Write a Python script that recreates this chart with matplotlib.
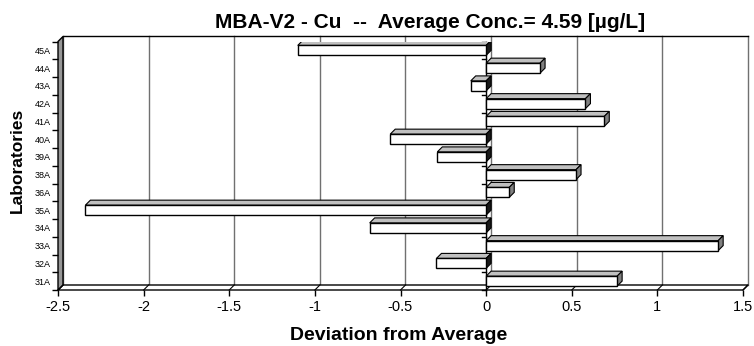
import matplotlib.pyplot as plt
from matplotlib.patches import Polygon

plt.rcParams['font.family'] = ['Liberation Sans', 'DejaVu Sans']

# laboratories, bottom to top
labs = ["31A", "32A", "33A", "34A", "35A", "36A", "38A",
        "39A", "40A", "41A", "42A", "43A", "44A", "45A"]
deviation = [0.765, -0.29, 1.355, -0.68, -2.34, 0.135, 0.525,
             -0.285, -0.56, 0.69, 0.58, -0.09, 0.315, -1.10]
xticks = [-2.5, -2, -1.5, -1, -0.5, 0, 0.5, 1, 1.5]
xticklabels = ["-2.5", "-2", "-1.5", "-1", "-0.5", "0", "0.5", "1", "1.5"]

fig = plt.figure(figsize=(7.54, 3.46), dpi=100)
ax = fig.add_axes([58 / 754, 56 / 346, 685 / 754, 248.5 / 346])
xmin, xmax = -2.5, 1.5
ybot, ytop = -0.5, len(labs) - 0.5
ax.set_xlim(xmin, xmax)
ax.set_ylim(ybot, ytop)
for s in ax.spines.values():
    s.set_visible(False)
ax.patch.set_visible(False)

# 3d depth, in pixels, converted to data units
depth = 5
px0, py0 = ax.transData.transform((0, 0))
ddx, ddy = ax.transData.inverted().transform((px0 + depth, py0 + depth))

# back wall gridlines and floor
for xt in xticks:
    ax.plot([xt + ddx, xt + ddx], [ybot + ddy, ytop + ddy], color="#707070",
            lw=1, zorder=1, clip_on=False)
ax.plot([xmin + ddx, xmax + ddx], [ytop + ddy, ytop + ddy], color="k",
        lw=1, zorder=1, clip_on=False)
floor = Polygon([(xmin, ybot), (xmax, ybot), (xmax + ddx, ybot + ddy),
                 (xmin + ddx, ybot + ddy)], closed=True, fc="white", ec="k",
                lw=1, zorder=1.5, clip_on=False)
ax.add_patch(floor)
for xt in xticks:
    ax.plot([xt, xt + ddx], [ybot, ybot + ddy], color="k", lw=0.8,
            zorder=1.6, clip_on=False)
wall = Polygon([(xmin, ybot), (xmin, ytop), (xmin + ddx, ytop + ddy),
                (xmin + ddx, ybot + ddy)], closed=True, fc="#969696", ec="k",
               lw=1, zorder=1.5, clip_on=False)
ax.add_patch(wall)

# category axis at zero
ax.plot([0, 0], [ybot, ytop], color="k", lw=1, zorder=2, clip_on=False)
for yb in range(len(labs) + 1):
    ax.plot([-0.8 * ddx, 0], [yb - 0.5, yb - 0.5], color="k", lw=1,
            zorder=2, clip_on=False)

# bars
h = 0.56
for i, v in enumerate(deviation):
    yb, yt = i - h / 2, i + h / 2
    xl, xr = min(0, v), max(0, v)
    top = Polygon([(xl, yt), (xr, yt), (xr + ddx, yt + ddy), (xl + ddx, yt + ddy)],
                  closed=True, fc="#c0c0c0", ec="k", lw=0.8, zorder=3)
    side = Polygon([(xr, yb), (xr + ddx, yb + ddy), (xr + ddx, yt + ddy), (xr, yt)],
                   closed=True, fc="#808080" if v > 0 else "#1a1a1a", ec="k",
                   lw=0.8, zorder=3)
    ax.add_patch(top)
    ax.add_patch(side)
ax.barh(range(len(labs)), deviation, height=h, color="white", edgecolor="k",
        lw=1, zorder=4)

# ticks
ax.set_xticks(xticks)
ax.set_xticklabels(xticklabels, fontsize=10.5)
ax.tick_params(axis="x", direction="out", length=4, width=1, pad=3)
ax.set_yticks(range(len(labs)))
ax.set_yticklabels(labs, fontsize=6.5)
ax.tick_params(axis="y", which="major", length=0, pad=5)
ax.set_yticks([i - 0.5 for i in range(len(labs) + 1)], minor=True)
ax.tick_params(axis="y", which="minor", length=4, width=1, direction="out")

fig.text(430 / 754, 1 - 22 / 346, "MBA-V2 - Cu  --  Average Conc.= 4.59 [µg/L]",
         ha="center", va="center", fontsize=15, fontweight="bold")
fig.text(399 / 754, 1 - 335 / 346, "Deviation from Average",
         ha="center", va="center", fontsize=14, fontweight="bold")
fig.text(17 / 754, 1 - 160 / 346, "Laboratories", rotation=90,
         ha="center", va="center", fontsize=12.5, fontweight="bold")

fig.savefig("out.png", dpi=100)
